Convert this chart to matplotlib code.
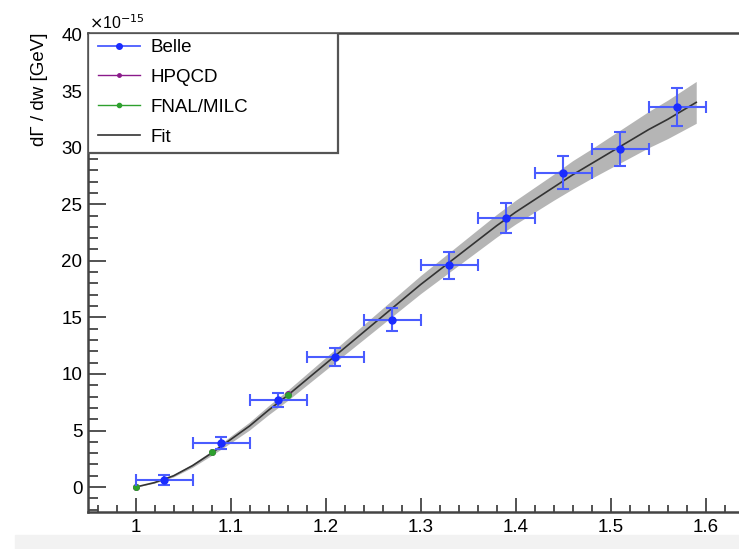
import numpy as np
import matplotlib.pyplot as plt
from matplotlib.ticker import MultipleLocator
from matplotlib.lines import Line2D
from matplotlib.patches import Rectangle

# Belle points (w bins of width 0.06)
belle_w = [1.03, 1.09, 1.15, 1.21, 1.27, 1.33, 1.39, 1.45, 1.51, 1.57]
belle_y = [0.6, 3.9, 7.7, 11.5, 14.8, 19.6, 23.8, 27.8, 29.9, 33.6]
belle_xerr = [0.03] * 10
belle_yerr = [0.45, 0.55, 0.65, 0.8, 1.0, 1.2, 1.35, 1.45, 1.5, 1.7]

# lattice points
hpqcd_w = [1.0, 1.08, 1.16]
hpqcd_y = [0.0, 3.1, 8.2]
fnal_w = [1.0, 1.08, 1.16]
fnal_y = [0.0, 3.1, 8.1]

# fit curve and its error band
fit_w = [1.00, 1.02, 1.04, 1.06, 1.08, 1.10, 1.12, 1.14, 1.16, 1.18, 1.20,
         1.22, 1.24, 1.26, 1.28, 1.30, 1.32, 1.34, 1.36, 1.38, 1.40, 1.42,
         1.44, 1.46, 1.48, 1.50, 1.52, 1.54, 1.56, 1.58, 1.59]
fit_y = [0.0, 0.4, 1.0, 1.9, 3.0, 4.2, 5.4, 6.8, 8.1, 9.5, 10.9,
         12.3, 13.7, 15.1, 16.5, 17.9, 19.2, 20.5, 21.8, 23.1, 24.3, 25.4,
         26.5, 27.6, 28.6, 29.6, 30.6, 31.6, 32.5, 33.5, 34.0]
fit_err = [0.0, 0.05, 0.1, 0.15, 0.2, 0.3, 0.35, 0.4, 0.45, 0.5, 0.55,
           0.6, 0.65, 0.7, 0.75, 0.8, 0.85, 0.9, 0.95, 1.0, 1.05, 1.1,
           1.15, 1.25, 1.3, 1.4, 1.5, 1.6, 1.7, 1.8, 1.85]

W, H = 739, 549
fig = plt.figure(figsize=(W / 100, H / 100), dpi=100)
plt.rcParams['font.family'] = ['Liberation Sans', 'DejaVu Sans']

# light grey strip at the bottom of the screenshot
fig.patches.append(Rectangle((15 / W, 0), 1, 14 / H, transform=fig.transFigure,
                             color='#f2f2f2', zorder=-1))

ax = fig.add_axes([88 / W, (H - 512) / H, (W - 88) / W, (512 - 33) / H])
ax.set_xlim(0.95, 1.635)
ax.set_ylim(-2.2, 40.13)

fw = np.array(fit_w)
fy = np.array(fit_y)
fe = np.array(fit_err)
ax.fill_between(fw, fy - fe, fy + fe, color='#b5b5b5', lw=0, zorder=1)
ax.plot(fw, fy, color='#333333', lw=1.2, zorder=2)

ax.errorbar(hpqcd_w, hpqcd_y, fmt='o', color='#8a1a8a', ms=4, zorder=3)
ax.errorbar(fnal_w, fnal_y, fmt='o', color='#2ea02e', ms=4, zorder=4)
ax.errorbar(belle_w, belle_y, xerr=belle_xerr, yerr=belle_yerr, fmt='o',
            color='#1a2cff', ecolor='#4a5cff', ms=5, elinewidth=1.5,
            capsize=4, capthick=1.5, zorder=5)

for s in ['left', 'bottom', 'top']:
    ax.spines[s].set_color('#444444')
    ax.spines[s].set_linewidth(1.8)
ax.spines['right'].set_visible(False)

ax.xaxis.set_major_locator(MultipleLocator(0.1))
ax.xaxis.set_minor_locator(MultipleLocator(0.02))
ax.yaxis.set_major_locator(MultipleLocator(5))
ax.yaxis.set_minor_locator(MultipleLocator(1))
ax.tick_params(axis='both', which='both', direction='in', color='#444444',
               width=1.3, labelsize=13.5, top=False, right=False)
ax.tick_params(axis='x', which='major', length=10, pad=5)
ax.tick_params(axis='x', which='minor', length=5)
ax.tick_params(axis='y', which='major', length=13, pad=4)
ax.tick_params(axis='y', which='minor', length=7)
ax.set_xticks([1.0, 1.1, 1.2, 1.3, 1.4, 1.5, 1.6])
ax.set_xticklabels(['1', '1.1', '1.2', '1.3', '1.4', '1.5', '1.6'])

fig.text(89 / W, 1 - 32 / H, r'$\times$10$^{-15}$', fontsize=11.5,
         ha='left', va='bottom')
fig.text(40 / W, 1 - 33 / H, 'd\u0393 / dw [GeV]', fontsize=13.5,
         rotation=90, ha='center', va='top')

# legend box with fixed size like the ROOT TLegend
ax.add_patch(Rectangle((88 / W, 1 - 153 / H), 250 / W, 120 / H,
                       transform=fig.transFigure, facecolor='white',
                       edgecolor='#555555', lw=1.6, zorder=9))

handles = [
    Line2D([], [], color='#4a5cff', marker='o', markersize=4,
           markerfacecolor='#1a2cff', markeredgecolor='#1a2cff', lw=1.3),
    Line2D([], [], color='#8a1a8a', marker='o', markersize=2.5, lw=1.0),
    Line2D([], [], color='#2ea02e', marker='o', markersize=3, lw=1.0),
    Line2D([], [], color='#333333', lw=1.2),
]
leg = ax.legend(handles, ['Belle', 'HPQCD', 'FNAL/MILC', 'Fit'],
                loc='upper left', bbox_to_anchor=(98 / W, 1 - 39 / H),
                bbox_transform=fig.transFigure, borderaxespad=0,
                fontsize=13.5, frameon=False,
                handlelength=2.25, handletextpad=0.55, labelspacing=0.68,
                borderpad=0.0)
leg.set_zorder(10)

fig.savefig('out.png', dpi=100)
